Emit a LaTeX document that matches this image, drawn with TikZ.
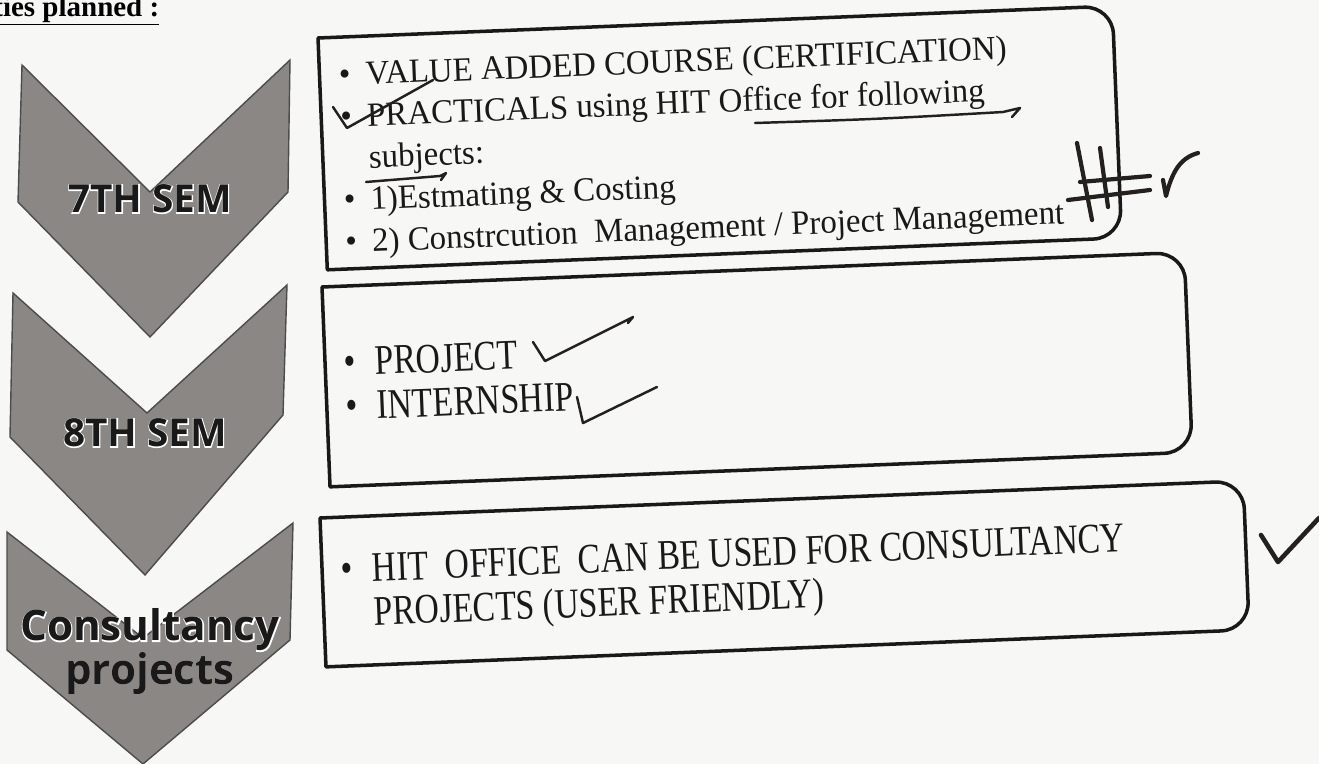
\documentclass[tikz,border=0pt]{standalone}
\usepackage{fontspec}
\setmainfont{Liberation Serif}
\newfontfamily\chevfont{Open Sans}
\newfontfamily\chevhalo[FakeBold=5]{Open Sans}
\newfontfamily\boxfontA[FakeStretch=0.97]{Liberation Serif}
\newfontfamily\boxfontB[FakeStretch=0.8]{Liberation Serif}
\definecolor{chevgray}{RGB}{138,135,132}
\definecolor{inkcol}{RGB}{35,32,30}
\definecolor{paper}{RGB}{247,247,245}

\newcommand{\bul}{\textbullet\hspace{0.45em}}
\newcommand{\setup}{
    % chevron 1
    \coordinate (a0) at (22,65);
    \coordinate (a1) at (150,192);
    \coordinate (a2) at (290,60);
    \coordinate (a3) at (288,192);
    \coordinate (a4) at (150,337);
    \coordinate (a5) at (18,202);
    % chevron 2
    \coordinate (b0) at (13,293);
    \coordinate (b1) at (147,413);
    \coordinate (b2) at (287,285);
    \coordinate (b3) at (283,415);
    \coordinate (b4) at (145,575);
    \coordinate (b5) at (10,437);
    % chevron 3
    \coordinate (c0) at (7,532);
    \coordinate (c1) at (143,638);
    \coordinate (c2) at (293,523);
    \coordinate (c3) at (290,640);
    \coordinate (c4) at (143,764);
    \coordinate (c5) at (7,650);
}
\newcommand{\chevron}[1]{
  \filldraw[chevron] (#10) -- (#11) -- (#12) -- (#13) -- (#14) -- (#15) -- cycle;
}
\newcommand{\halolabel}[4]{% name, options, position, text
  \node[semlabel,#2,text=white] at (#3) {\chevhalo\bfseries #4};
  \node[semlabel,#2] (#1) at (#3) {#4};
}
\newcommand{\roundbox}[4]{% x, y, width, height
  \draw[boxline] (#1,#2) -- (#1+#3-28,#2) arc[start angle=-90,end angle=0,radius=28]
    -- (#1+#3,#2+#4-28) arc[start angle=0,end angle=90,radius=28] -- (#1,#2+#4) -- cycle;
}

\tikzset{
  chevron/.style={fill=chevgray, draw=black!70, line width=0.8pt},
  semlabel/.style={font=\chevfont\bfseries\fontsize{22}{24}\selectfont, text=black!90, align=center, inner sep=0pt},
  boxline/.style={draw=black!90, line width=2pt, line join=round},
  itemtext/.style={anchor=west, align=left, inner sep=0pt, text=black!90},
  ink/.style={draw=inkcol, line width=1.4pt, line cap=round, line join=round},
}

\begin{document}
\begin{tikzpicture}[x=0.02cm,y=-0.02cm]
  \useasboundingbox (0,0) rectangle (1319,764);
  \fill[paper] (0,0) rectangle (1319,764);
  \clip (0,0) rectangle (1319,764);
  \setup;

  \node[anchor=base west, inner sep=0pt, font=\bfseries\fontsize{16.5}{18}\selectfont] (title) at (-7,16) {\underline{ties planned :}};

  \chevron{a};
  \chevron{b};
  \chevron{c};

  \halolabel{sem7}{}{150,199}{7TH SEM};
  \halolabel{sem8}{}{145,433}{8TH SEM};
  \halolabel{consult}{font=\chevfont\bfseries\fontsize{24}{21.5}\selectfont}{150,652}{Consultancy\\projects};

  % box 1
  \begin{scope}[rotate around={2.3:(318,38)}, transform shape]
    \roundbox{318}{38}{795}{232}
    \node[itemtext, font=\boxfontA\fontsize{19.3}{23.8}\selectfont] (list7) at (337,162) {%
      \bul VALUE ADDED COURSE (CERTIFICATION)\\
      \bul PRACTICALS using HIT Office for following\\
      \hphantom{\bul}subjects:\\
      \bul 1)Estmating \& Costing\\
      \bul 2) Constrcution\ \ Management / Project Management};
  \end{scope}

  % box 2
  \begin{scope}[rotate around={2.3:(322,287)}, transform shape]
    \roundbox{322}{287}{863}{200}
    \node[itemtext, font=\boxfontB\fontsize{24}{25}\selectfont] (list8) at (341,385) {%
      \bul PROJECT\\
      \bul INTERNSHIP};
  \end{scope}

  % box 3
  \begin{scope}[rotate around={2.3:(320,518)}, transform shape]
    \roundbox{320}{518}{924}{149}
    \node[itemtext, font=\boxfontB\fontsize{24}{25}\selectfont] (listc) at (339,596) {%
      \bul HIT\ \ OFFICE\ \ CAN BE USED FOR CONSULTANCY\\
      \hphantom{\bul}PROJECTS (USER FRIENDLY)};
  \end{scope}

  % handwritten marks
  \draw[ink] (333,107) -- (347,128) -- (433,80);
  \draw[ink] (755,123) .. controls (880,119) .. (1003,112) -- (1020,108) -- (1012,117);
  \draw[ink] (366,182) -- (440,176) -- (446,173) -- (441,180);
  \draw[ink, line width=2.4pt] (1077,143) -- (1092,220);
  \draw[ink, line width=2.4pt] (1100,148) -- (1108,207);
  \draw[ink, line width=2.4pt] (1080,182) -- (1150,176);
  \draw[ink, line width=2.4pt] (1068,200) -- (1150,190);
  \draw[ink, line width=2.4pt] (1163,180) -- (1166,196) .. controls (1172,172) and (1180,158) .. (1198,153);
  \draw[ink] (533,342) -- (545,361) -- (633,317) -- (628,323);
  \draw[ink] (577,397) -- (583,423) -- (657,387);
  \draw[ink, line width=2.6pt] (1261,535) -- (1278,562) -- (1319,518);
\end{tikzpicture}
\end{document}
